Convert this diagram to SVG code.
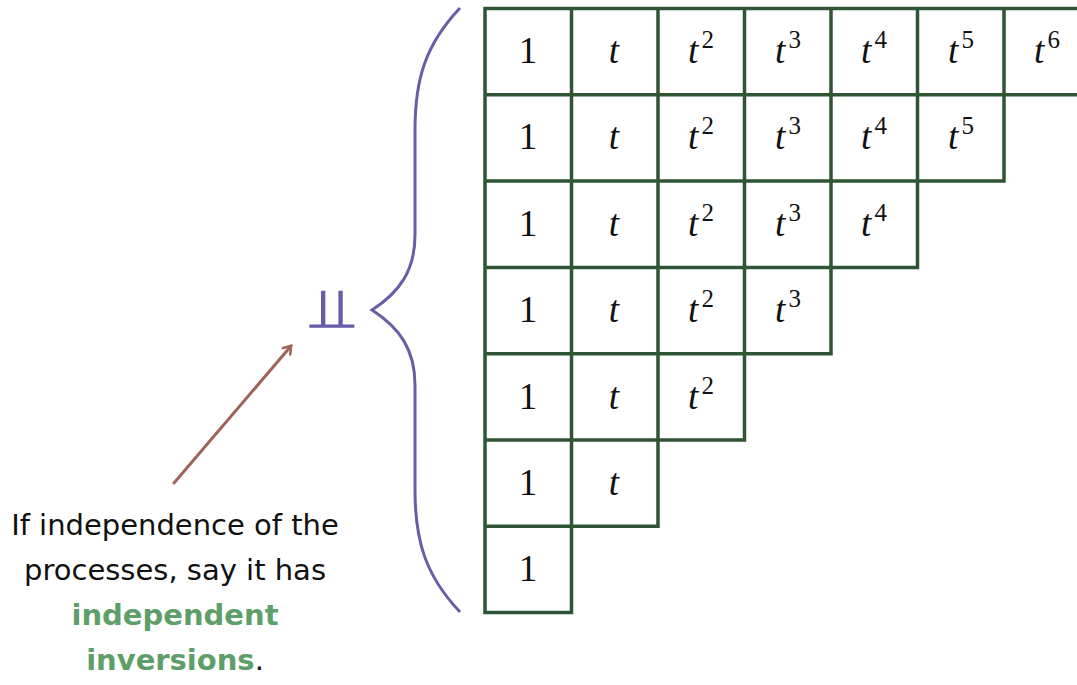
<svg xmlns="http://www.w3.org/2000/svg" width="1077" height="685" viewBox="0 0 1077 685">
<style>
.grid{fill:none;stroke:#2f5535;stroke-width:3.5;stroke-linecap:square}
.m{font-family:"Liberation Serif",serif;font-size:37px;fill:#111;text-anchor:middle}
.i{font-style:italic}
.s{font-size:25px}
.lbl{font-family:"DejaVu Sans","Liberation Sans",sans-serif;font-size:29px;fill:#111;text-anchor:middle}
.g{fill:#5e9e68;font-weight:bold}
</style>
<defs>
<marker id="ah" markerWidth="12" markerHeight="12" refX="9" refY="6" orient="auto" markerUnits="userSpaceOnUse">
<path d="M2,1 L9,6 L2,11" fill="none" stroke="#a0635b" stroke-width="2.5" stroke-linecap="round"/>
</marker>
</defs>
<rect width="1077" height="685" fill="#fff"/>
<g id="grid">
<path class="grid" d="M485,8.5H1090 M485,94.8H1090 M485,181.1H1004 M485,267.4H917.5 M485,353.7H831 M485,440H744.5 M485,526.3H658 M485,612.6H571.5 M485,8.5V612.6 M571.5,8.5V612.6 M658,8.5V526.3 M744.5,8.5V440 M831,8.5V353.7 M917.5,8.5V267.4 M1004,8.5V181.1"/>
</g>
<g id="cells">
<text class="m" x="528" y="63">1</text>
<text class="m" x="614" y="63"><tspan class="i">t</tspan></text>
<text class="m" x="701" y="63"><tspan class="i">t</tspan><tspan class="s" dx="3" dy="-15">2</tspan></text>
<text class="m" x="788" y="63"><tspan class="i">t</tspan><tspan class="s" dx="3" dy="-15">3</tspan></text>
<text class="m" x="874" y="63"><tspan class="i">t</tspan><tspan class="s" dx="3" dy="-15">4</tspan></text>
<text class="m" x="961" y="63"><tspan class="i">t</tspan><tspan class="s" dx="3" dy="-15">5</tspan></text>
<text class="m" x="1047" y="63"><tspan class="i">t</tspan><tspan class="s" dx="3" dy="-15">6</tspan></text>

<text class="m" x="528" y="149">1</text>
<text class="m" x="614" y="149"><tspan class="i">t</tspan></text>
<text class="m" x="701" y="149"><tspan class="i">t</tspan><tspan class="s" dx="3" dy="-15">2</tspan></text>
<text class="m" x="788" y="149"><tspan class="i">t</tspan><tspan class="s" dx="3" dy="-15">3</tspan></text>
<text class="m" x="874" y="149"><tspan class="i">t</tspan><tspan class="s" dx="3" dy="-15">4</tspan></text>
<text class="m" x="961" y="149"><tspan class="i">t</tspan><tspan class="s" dx="3" dy="-15">5</tspan></text>

<text class="m" x="528" y="236">1</text>
<text class="m" x="614" y="236"><tspan class="i">t</tspan></text>
<text class="m" x="701" y="236"><tspan class="i">t</tspan><tspan class="s" dx="3" dy="-15">2</tspan></text>
<text class="m" x="788" y="236"><tspan class="i">t</tspan><tspan class="s" dx="3" dy="-15">3</tspan></text>
<text class="m" x="874" y="236"><tspan class="i">t</tspan><tspan class="s" dx="3" dy="-15">4</tspan></text>

<text class="m" x="528" y="322">1</text>
<text class="m" x="614" y="322"><tspan class="i">t</tspan></text>
<text class="m" x="701" y="322"><tspan class="i">t</tspan><tspan class="s" dx="3" dy="-15">2</tspan></text>
<text class="m" x="788" y="322"><tspan class="i">t</tspan><tspan class="s" dx="3" dy="-15">3</tspan></text>

<text class="m" x="528" y="409">1</text>
<text class="m" x="614" y="409"><tspan class="i">t</tspan></text>
<text class="m" x="701" y="409"><tspan class="i">t</tspan><tspan class="s" dx="3" dy="-15">2</tspan></text>

<text class="m" x="528" y="495">1</text>
<text class="m" x="614" y="495"><tspan class="i">t</tspan></text>

<text class="m" x="528" y="581">1</text>
</g>
<g id="brace">
<path d="M460,8 C425,45 415,80 415,130 L415,235 C415,270 400,292 372,310 C400,328 415,350 415,385 L415,490 C415,540 425,575 460,612" fill="none" stroke="#6a5ca8" stroke-width="3"/>
</g>
<g id="indep">
<text transform="translate(332,328) scale(1.45,1)" x="0" y="0" font-family="DejaVu Sans,sans-serif" font-size="56" fill="#6a5ca8" text-anchor="middle">⫫</text>
</g>
<g id="connectors">
<line x1="174" y1="483" x2="291" y2="346" stroke="#a0635b" stroke-width="3" stroke-linecap="round" marker-end="url(#ah)"/>
</g>
<g id="note">
<text class="lbl" x="175" y="535">If independence of the</text>
<text class="lbl" x="175" y="580">processes, say it has</text>
<text class="lbl" x="175" y="625"><tspan class="g">independent</tspan></text>
<text class="lbl" x="175" y="670"><tspan class="g">inversions</tspan>.</text>
</g>
</svg>
